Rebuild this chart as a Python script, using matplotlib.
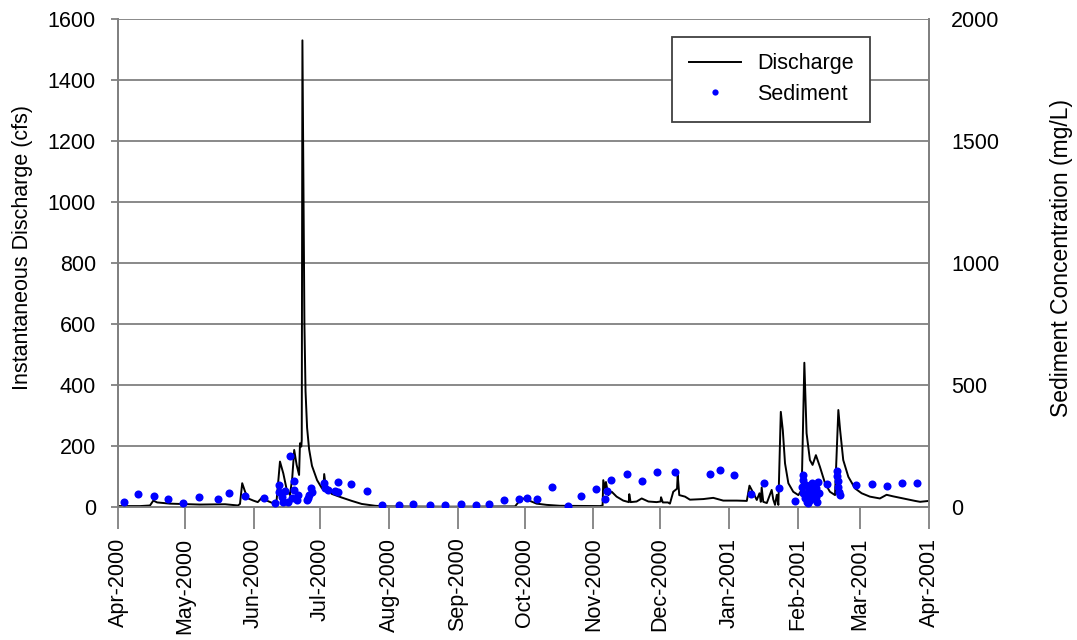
import matplotlib
matplotlib.use("Agg")
import matplotlib.pyplot as plt
import matplotlib.dates as mdates
from matplotlib.lines import Line2D
import numpy as np
import pandas as pd

plt.rcParams['font.family'] = ['Liberation Sans', 'DejaVu Sans']

START = pd.Timestamp('2000-04-01')

# Discharge (cfs): days since 2000-04-01 and values
q_days = [0, 9.9, 14.4, 15.9, 17.6, 23.4, 36.9, 48.2, 54.0, 54.9, 55.9, 57.2, 58.6, 60.9, 62.9,
          64.7, 66.9, 69.9, 71.4, 72.9, 74.4, 75.9, 77.4, 78.4, 79.3, 80.4, 81.5, 81.9, 82.5,
          82.7, 83.0, 83.5, 83.9, 84.4, 85.1, 86.0, 87.3, 89.6, 91.8, 92.5, 92.8, 93.5, 96.2,
          100.7, 105.2, 109.7, 115.7, 120.2, 149.4, 178.7, 180.9, 182.7, 184.2, 185.4, 188.4,
          192.9, 198.9, 216.9, 218.1, 218.4, 219.2, 219.6, 220.7, 222.2, 224.4, 227.4, 229.9,
          230.1, 230.7, 233.4, 235.7, 238.7, 242.4, 244.2, 244.4, 245.2, 247.5, 248.4, 249.9,
          251.6, 251.9, 252.6, 255.2, 257.4, 263.4, 267.9, 272.4, 278.5, 283.0, 284.2, 286.0,
          287.5, 288.7, 289.3, 289.7, 290.4, 292.0, 294.2, 294.9, 295.7, 296.5, 297.2, 298.3,
          299.2, 300.2, 301.7, 303.9, 306.2, 307.7, 308.9, 309.9, 311.4, 312.6, 314.1, 315.9,
          318.2, 320.4, 322.7, 324.2, 325.0, 326.4, 328.7, 331.7, 334.7, 338.4, 342.9, 345.9,
          348.8, 353.4, 358.7, 361.0, 365.0]
q_vals = [3, 3, 5, 21, 15, 11, 8, 9, 5, 10, 78, 50, 28, 21, 16,
          30, 21, 12, 23, 149, 110, 58, 39, 94, 187, 138, 105, 209, 198,
          220, 1530, 1000, 600, 380, 260, 190, 135, 88, 61, 70, 108, 67, 43,
          31, 20, 10, 4, 2, 1, 2, 22, 28, 36, 20, 11,
          7, 4, 3, 5, 88, 61, 82, 39, 50, 34, 21, 16,
          42, 16, 18, 28, 18, 16, 18, 32, 15, 15, 11, 50,
          60, 105, 39, 34, 24, 26, 30, 21, 21, 20, 70, 45,
          23, 45, 17, 64, 17, 13, 56, 25, 7, 40, 7, 312,
          252, 143, 78, 50, 39, 56, 473, 242, 154, 138, 170, 132,
          78, 50, 39, 318, 252, 154, 99, 61, 45, 34, 28, 40,
          35, 28, 20, 17, 20]

# Sediment concentration (mg/L)
s_days = [2.8, 9.1, 16.2, 22.6, 29.4, 36.5, 45.1, 50.1, 57.2, 65.8, 70.7, 72.6, 72.6, 73.7,
          74.4, 75.2, 77.4, 79.3, 79.3, 78.2, 80.4, 81.1, 76.6, 84.9, 86.0, 86.9, 87.2, 85.6,
          92.8, 93.2, 94.4, 99.2, 99.2, 97.7, 104.9, 111.9, 118.7, 126.5, 132.6, 140.4, 147.2,
          154.2, 161.1, 167.0, 173.9, 180.6, 183.9, 188.4, 195.5, 202.4, 208.4, 215.1, 219.2,
          220.2, 221.9, 229.1, 235.8, 242.6, 250.7, 266.4, 271.1, 277.1, 284.9, 290.9, 297.6,
          304.7, 308.4, 308.2, 307.7, 308.4, 309.2, 309.9, 310.7, 311.1, 312.2, 312.9, 314.1,
          314.7, 315.2, 315.4, 319.2, 323.7, 323.7, 323.9, 324.2, 324.6, 324.9, 332.0, 339.2,
          346.0, 352.7, 359.5, 310.0, 311.5, 313.5, 309.5, 314.0, 310.5, 313.0]
s_vals = [22, 52, 45, 31, 18, 42, 34, 56, 46, 38, 15, 90, 63, 42,
          22, 67, 210, 106, 70, 36, 29, 49, 22, 29, 49, 77, 63, 36,
          97, 77, 70, 101, 63, 67, 94, 67, 8, 8, 11, 10, 7,
          12, 10, 12, 29, 33, 36, 33, 81, 4, 45, 72, 33,
          67, 111, 137, 105, 143, 142, 137, 152, 131, 53, 97, 77,
          26, 131, 111, 83, 56, 36, 22, 15, 70, 97, 49, 77,
          22, 104, 56, 93, 149, 127, 108, 83, 63, 49, 90, 96,
          86, 98, 97, 40, 30, 60, 90, 40, 50, 85]

q_dates = START + pd.to_timedelta(q_days, unit='D')
s_dates = START + pd.to_timedelta(s_days, unit='D')

W, H = 1077, 640
FS = 15.5
fig = plt.figure(figsize=(W / 100, H / 100), dpi=100)
ax = fig.add_axes([118 / W, (H - 507) / H, 811 / W, 488 / H])
ax2 = ax.twinx()

spine_col = '#808080'
ax.plot(q_dates, q_vals, color='black', lw=1.4, zorder=3)
ax.set_ylim(0, 1600)
ax.set_yticks(np.arange(0, 1601, 200))
ax.set_xlim(pd.Timestamp('2000-04-01'), pd.Timestamp('2001-04-01'))
ax.xaxis.set_major_locator(mdates.MonthLocator())
ax.xaxis.set_major_formatter(mdates.DateFormatter('%b-%Y'))
ax.grid(axis='y', color=spine_col, lw=1.3)
ax.set_axisbelow(True)

ax2.plot(s_dates, s_vals, 'o', color='#0000ff', ms=5.8, mec='none', zorder=4)
ax2.set_ylim(0, 2000)
ax2.set_yticks(np.arange(0, 2001, 500))

for a in (ax, ax2):
    for s in a.spines.values():
        s.set_color(spine_col)
        s.set_linewidth(1.3)
    a.spines['top'].set_visible(False)

ax.tick_params(axis='y', direction='out', length=5, width=1.3, color=spine_col, pad=11,
               labelsize=FS)
ax.tick_params(axis='x', direction='out', length=16, width=1.3, color=spine_col, pad=6,
               labelsize=FS, labelrotation=90)
ax2.tick_params(axis='y', length=0, pad=16, labelsize=FS)
ax2.tick_params(axis='x', length=0)

ax.set_ylabel('Instantaneous Discharge (cfs)', fontsize=FS)
ax2.set_ylabel('Sediment Concentration (mg/L)', fontsize=16.5, rotation=90)
ax.yaxis.set_label_coords(-0.105, 0.532)
ax2.yaxis.set_label_coords(1.149, 0.51)

handles = [Line2D([], [], color='black', lw=1.4),
           Line2D([], [], ls='none', marker='o', color='#0000ff', ms=4.5, mec='none')]
leg = ax2.legend(handles, ['Discharge', 'Sediment'], loc='upper left',
                 bbox_to_anchor=((672 - 118) / 811, (507 - 36.5) / 488),
                 fontsize=FS, frameon=True, fancybox=False, edgecolor='#404040',
                 framealpha=1, handlelength=2.42, handletextpad=0.74, borderpad=0.78,
                 labelspacing=0.45, borderaxespad=0)
leg.get_frame().set_linewidth(1.3)
leg.set_zorder(10)

fig.savefig('out.png', dpi=100)
